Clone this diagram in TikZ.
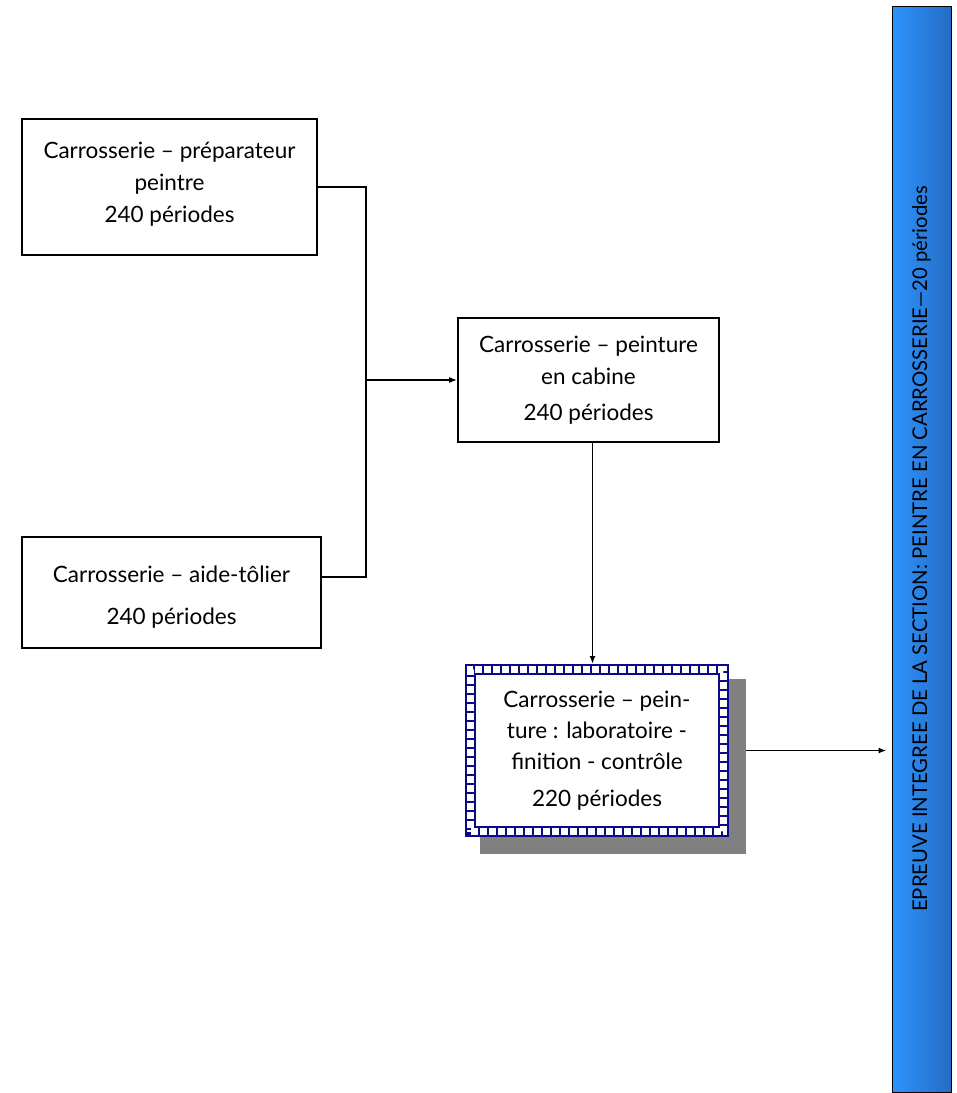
\documentclass[tikz,border=0pt]{standalone}
\usepackage{fontspec}
\setmainfont{Lato}
\usetikzlibrary{arrows.meta}
\definecolor{navyline}{RGB}{10,10,135}
\definecolor{barlight}{RGB}{44,148,255}
\definecolor{bardark}{RGB}{38,108,196}
\tikzset{
  box/.style={draw, line width=1.6pt, align=center, inner sep=0pt,
    font=\fontsize{22.5}{32}\selectfont},
  patbox/.style={draw=navyline, line width=11pt, fill=white, align=center, inner sep=0pt,
    font=\fontsize{22.5}{31}\selectfont,
    postaction={draw=white, line width=7pt, dash pattern=on 7pt off 2pt}},
  arr/.style={-{Latex[length=8pt,width=6pt]}, line width=1.6pt},
  link/.style={line width=1.6pt}
}
\begin{document}
\begin{tikzpicture}[x=1pt,y=-1pt]
\useasboundingbox (0,0) rectangle (957,1093);
% modules
\node[box, minimum width=295pt, minimum height=136pt, text depth=10pt] (prep) at (169.5,187)
  {Carrosserie -- préparateur\\peintre\\240 périodes};
\node[box, minimum width=299pt, minimum height=111pt, text height=68pt] (aide) at (171.5,592.5)
  {Carrosserie -- aide-tôlier\\[10pt]240 périodes};
\node[box, minimum width=261pt, minimum height=124pt] (cab) at (588.5,380)
  {Carrosserie -- peinture\\en cabine\\[4pt]240 périodes};
% shadow then the framed box
\node[fill=gray, minimum width=266pt, minimum height=175pt, inner sep=0pt] (ombre) at (613,766.5) {};
\node[patbox, minimum width=253pt, minimum height=162pt] (labo) at (597,750.5)
  {Carrosserie -- pein-\\ture : laboratoire -\\finition - contrôle\\[6pt]220 périodes};
% epreuve
\node[draw, line width=1pt, left color=barlight, right color=bardark, inner sep=0pt,
  minimum width=59pt, minimum height=1086pt] (epr) at (921.5,549) {};
\node[rotate=90, font=\fontsize{20.3}{22}\selectfont] (eprtxt) at (epr.center)
  {EPREUVE INTEGREE DE LA SECTION: PEINTRE EN CARROSSERIE—20 périodes};
% liaisons
\coordinate (jt) at (366,187);
\coordinate (jb) at (366,577);
\draw[link] (prep.east) -- (jt) -- (jb) -- (aide.east |- jb);
\draw[arr] (jt |- cab.west) -- (cab.west);
\draw[arr] ([xshift=4pt]cab.south) -- ([xshift=4pt]cab.south |- labo.north);
\draw[arr] (ombre.east |- labo.east) -- ([xshift=-5pt]labo.east -| epr.west);
\end{tikzpicture}
\end{document}
